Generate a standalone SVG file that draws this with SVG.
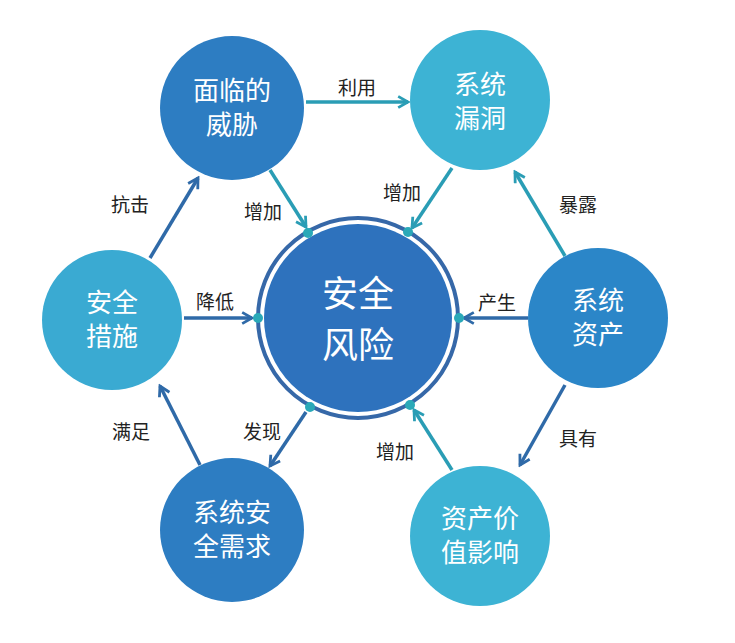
<svg xmlns="http://www.w3.org/2000/svg" width="735" height="643" viewBox="0 0 735 643">
<style>
text{font-family:"Noto Sans CJK SC","Noto Sans",sans-serif;text-anchor:middle}
.n{fill:#fff;font-size:26px}
.l{fill:#222;font-size:19px}
.c{fill:none;stroke-width:3.5}
.dot{fill:#2aa9b8}
</style>
<defs>
<marker id="ab" viewBox="0 0 10 10" refX="8" refY="5" markerWidth="4" markerHeight="4" orient="auto"><path d="M1,1 L8,5 L1,9" fill="none" stroke="#2f6aa8" stroke-width="2"/></marker>
<marker id="at" viewBox="0 0 10 10" refX="8" refY="5" markerWidth="4" markerHeight="4" orient="auto"><path d="M1,1 L8,5 L1,9" fill="none" stroke="#2a9db5" stroke-width="2"/></marker>
</defs>
<rect width="735" height="643" fill="#fff"/>
<g id="connectors">
<line class="c" stroke="#2a9db5" marker-end="url(#at)" x1="306" y1="102" x2="408" y2="102"/>
<line class="c" stroke="#2a9db5" marker-end="url(#at)" x1="270" y1="170" x2="306" y2="227"/>
<line class="c" stroke="#2a9db5" marker-end="url(#at)" x1="452" y1="168" x2="412" y2="228"/>
<line class="c" stroke="#2a9db5" marker-end="url(#at)" x1="565" y1="256" x2="515" y2="172"/>
<line class="c" stroke="#2f6aa8" marker-end="url(#ab)" x1="528" y1="318" x2="464" y2="318"/>
<line class="c" stroke="#2f6aa8" marker-end="url(#ab)" x1="565" y1="385" x2="520" y2="465"/>
<line class="c" stroke="#2a9db5" marker-end="url(#at)" x1="452" y1="470" x2="414" y2="410"/>
<line class="c" stroke="#2f6aa8" marker-end="url(#ab)" x1="200" y1="465" x2="160" y2="386"/>
<line class="c" stroke="#2f6aa8" marker-end="url(#ab)" x1="306" y1="412" x2="270" y2="466"/>
<line class="c" stroke="#2f6aa8" marker-end="url(#ab)" x1="184" y1="318" x2="252" y2="318"/>
<line class="c" stroke="#2f6aa8" marker-end="url(#ab)" x1="150" y1="258" x2="198" y2="178"/>
<text class="l" x="357" y="95">利用</text>
<text class="l" x="263" y="219">增加</text>
<text class="l" x="402" y="200">增加</text>
<text class="l" x="578" y="212">暴露</text>
<text class="l" x="497" y="310">产生</text>
<text class="l" x="578" y="446">具有</text>
<text class="l" x="395" y="459">增加</text>
<text class="l" x="131" y="439">满足</text>
<text class="l" x="262" y="439">发现</text>
<text class="l" x="215" y="309">降低</text>
<text class="l" x="130" y="212">抗击</text>
</g>
<g id="center">
<circle cx="358" cy="318" r="100" fill="none" stroke="#3668a8" stroke-width="4"/>
<circle cx="358" cy="318" r="94" fill="#2e72bd"/>
<circle class="dot" cx="258" cy="318" r="5"/><circle class="dot" cx="459" cy="318" r="5"/>
<circle class="dot" cx="308" cy="233" r="5"/><circle class="dot" cx="408" cy="232" r="5"/>
<circle class="dot" cx="310" cy="407" r="5"/><circle class="dot" cx="410" cy="405" r="5"/>
<text class="n" style="font-size:36px" x="358" y="307">安全</text>
<text class="n" style="font-size:36px" x="358" y="358">风险</text>
</g>
<g id="threat"><circle cx="232" cy="108" r="72" fill="#2d7dc2"/><text class="n" x="232" y="100">面临的</text><text class="n" x="232" y="134">威胁</text></g>
<g id="vuln"><circle cx="480" cy="100" r="70" fill="#3db3d4"/><text class="n" x="480" y="94">系统</text><text class="n" x="480" y="128">漏洞</text></g>
<g id="measure"><circle cx="112" cy="320" r="70" fill="#3aaad2"/><text class="n" x="112" y="312">安全</text><text class="n" x="112" y="346">措施</text></g>
<g id="asset"><circle cx="598" cy="318" r="70" fill="#2b86c8"/><text class="n" x="598" y="310">系统</text><text class="n" x="598" y="344">资产</text></g>
<g id="req"><circle cx="232" cy="530" r="72" fill="#2d7dc2"/><text class="n" x="232" y="522">系统安</text><text class="n" x="232" y="556">全需求</text></g>
<g id="value"><circle cx="480" cy="536" r="70" fill="#3db3d4"/><text class="n" x="480" y="528">资产价</text><text class="n" x="480" y="562">值影响</text></g>
</svg>
